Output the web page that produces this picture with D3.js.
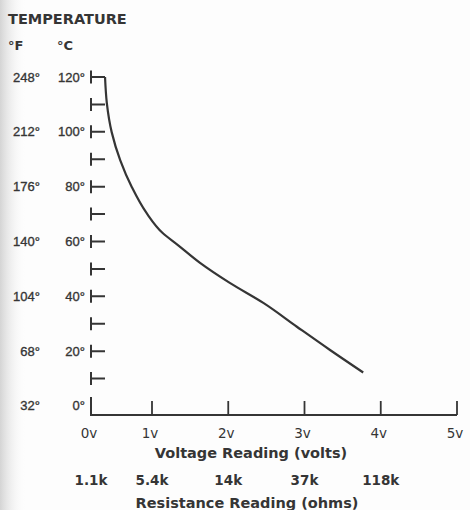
<!DOCTYPE html>
<html>
<head>
<meta charset="utf-8">
<script src="https://cdn.jsdelivr.net/npm/d3@7"></script>
<style>
  html, body { margin: 0; padding: 0; background: #fdfdfd; }
  svg { display: block; }
</style>
</head>
<body>
<svg id="chart"></svg>
<script>
(function () {
  'use strict';

  // temperature axis (celsius ticks with fahrenheit equivalents)
  const celsiusMajor = [0, 20, 40, 60, 80, 100, 120];
  const celsiusMinor = [10, 30, 50, 70, 90, 110];
  const celsiusLabels = ['0°', '20°', '40°', '60°', '80°', '100°', '120°'];
  const fahrenheitLabels = ['32°', '68°', '104°', '140°', '176°', '212°', '248°'];

  // voltage axis + matching resistance
  const voltTicks = [0, 1, 2, 3, 4, 5];
  const voltLabels = ['0v', '1v', '2v', '3v', '4v', '5v'];
  const resistanceTicks = [0, 1, 2, 3, 4];
  const resistanceLabels = ['1.1k', '5.4k', '14k', '37k', '118k'];

  // sensor curve
  const curveVolts = [0.23, 0.26, 0.34, 0.48, 0.67, 0.91, 1.14, 1.34, 1.63, 2.02, 2.46, 2.90, 3.33, 3.77];
  const curveTemps = [120, 110.4, 99.8, 89.6, 79.8, 70.4, 63.1, 58.7, 52.2, 44.9, 37.6, 28.9, 20.5, 12.2];

  const width = 470;
  const height = 510;
  const ink = '#353535';

  const svg = d3.select('#chart')
    .attr('width', width)
    .attr('height', height);

  // scanned-page shading on the left edge
  const defs = svg.append('defs');
  const grad = defs.append('linearGradient').attr('id', 'edge');
  grad.append('stop').attr('offset', '0%').attr('stop-color', '#d4d4d4');
  grad.append('stop').attr('offset', '100%').attr('stop-color', '#fdfdfd').attr('stop-opacity', 0);
  svg.append('rect')
    .attr('x', 0).attr('y', 0)
    .attr('width', 26).attr('height', height)
    .attr('fill', 'url(#edge)');

  // hand drawn chart: 0v sits closer to 1v than the other steps
  const x = d3.scaleLinear()
    .domain([0, 1, 5])
    .range([91, 152, 457]);

  const yFloor = -3.3; // the voltage axis sits a little under 0°
  const y = d3.scaleLinear()
    .domain([yFloor, 120])
    .range([415, 77]);

  const axisX = x(0);
  const axisY = y(yFloor);

  // header
  svg.append('text')
    .attr('x', 8).attr('y', 24)
    .style('font', 'bold 14.5px "DejaVu Sans"')
    .attr('fill', ink)
    .text('TEMPERATURE');

  svg.append('text')
    .attr('x', 8).attr('y', 50)
    .style('font', 'bold 13px "DejaVu Sans"')
    .attr('fill', ink)
    .text('°F');

  svg.append('text')
    .attr('x', 57).attr('y', 50)
    .style('font', 'bold 13px "DejaVu Sans"')
    .attr('fill', ink)
    .text('°C');

  // y ticks drawn as little "⊢" marks
  const tickLen = 14;
  const yTicks = celsiusMajor.concat(celsiusMinor).filter(d => d > 0);
  svg.selectAll('.ytick')
    .data(yTicks)
    .enter()
    .append('path')
      .attr('class', 'ytick')
      .attr('d', d => `M${axisX},${y(d) - 6.5}V${y(d) + 6.5}M${axisX},${y(d)}H${axisX + tickLen}`)
      .attr('fill', 'none')
      .attr('stroke', ink)
      .attr('stroke-width', 2);

  // bottom corner + voltage axis
  svg.append('path')
    .attr('d', `M${axisX},${y(0) - 9}V${axisY}H${x(5)}`)
    .attr('fill', 'none')
    .attr('stroke', ink)
    .attr('stroke-width', 2);

  svg.selectAll('.xtick')
    .data(voltTicks.filter(d => d > 0))
    .enter()
    .append('line')
      .attr('class', 'xtick')
      .attr('x1', d => x(d)).attr('x2', d => x(d))
      .attr('y1', axisY).attr('y2', axisY - 14)
      .attr('stroke', ink)
      .attr('stroke-width', 1.8);

  // celsius / fahrenheit labels
  svg.selectAll('.clabel')
    .data(celsiusMajor)
    .enter()
    .append('text')
      .attr('class', 'clabel')
      .attr('x', 85)
      .attr('y', d => y(d) + 4.5)
      .attr('text-anchor', 'end')
      .style('font', '13px "Liberation Sans"')
      .attr('fill', ink)
      .attr('stroke', ink)
      .attr('stroke-width', 0.35)
      .text((d, i) => celsiusLabels[i]);

  svg.selectAll('.flabel')
    .data(celsiusMajor)
    .enter()
    .append('text')
      .attr('class', 'flabel')
      .attr('x', 40)
      .attr('y', d => y(d) + 4.5)
      .attr('text-anchor', 'end')
      .style('font', '13px "Liberation Sans"')
      .attr('fill', ink)
      .attr('stroke', ink)
      .attr('stroke-width', 0.35)
      .text((d, i) => fahrenheitLabels[i]);

  // voltage labels
  svg.selectAll('.vlabel')
    .data(voltTicks)
    .enter()
    .append('text')
      .attr('class', 'vlabel')
      .attr('x', d => x(d) - 2)
      .attr('y', 438)
      .attr('text-anchor', 'middle')
      .style('font', '13.5px "DejaVu Sans"')
      .attr('fill', ink)
      .text((d, i) => voltLabels[i]);

  svg.append('text')
    .attr('x', 251).attr('y', 458)
    .attr('text-anchor', 'middle')
    .style('font', 'bold 14.5px "DejaVu Sans"')
    .attr('fill', ink)
    .text('Voltage Reading (volts)');

  svg.selectAll('.rlabel')
    .data(resistanceTicks)
    .enter()
    .append('text')
      .attr('class', 'rlabel')
      .attr('x', d => x(d))
      .attr('y', 485)
      .attr('text-anchor', 'middle')
      .style('font', 'bold 13.5px "DejaVu Sans"')
      .attr('fill', ink)
      .text((d, i) => resistanceLabels[i]);

  svg.append('text')
    .attr('x', 247).attr('y', 508)
    .attr('text-anchor', 'middle')
    .style('font', 'bold 14.5px "DejaVu Sans"')
    .attr('fill', ink)
    .text('Resistance Reading (ohms)');

  // the curve
  const points = curveVolts.map((v, i) => ({ v: v, t: curveTemps[i] }));
  const line = d3.line()
    .x(d => x(d.v))
    .y(d => y(d.t))
    .curve(d3.curveMonotoneY);

  svg.append('path')
    .datum(points)
    .attr('d', line)
    .attr('fill', 'none')
    .attr('stroke', ink)
    .attr('stroke-width', 2.2)
    .attr('stroke-linejoin', 'round');
}());
</script>
</body>
</html>
